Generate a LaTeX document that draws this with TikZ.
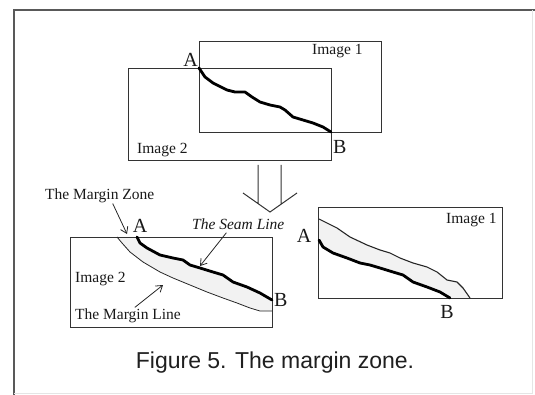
\documentclass[tikz,border=0pt]{standalone}
\usepackage{fontspec}
\setmainfont{Liberation Serif}
\newfontfamily\capfont{Liberation Sans}
\usetikzlibrary{arrows.meta}

\begin{document}
\begin{tikzpicture}[x=1pt, y=-1pt,
    every node/.style={font=\fontsize{15.5}{16}\selectfont, inner sep=0pt, text=black!90}]

\tikzset{
    imgframe/.style={draw=black!80, line width=0.9pt},
    seamline/.style={draw=black, line width=2.8pt, line join=round, line cap=round},
    marginline/.style={draw=black!85, line width=0.8pt, line join=round},
    zone/.style={fill=gray!10},
    pointlabel/.style={font=\fontsize{20}{20}\selectfont},
    pointer/.style={-{Straight Barb[length=6pt, width=8pt]}, line width=0.8pt, black!85},
}

\useasboundingbox (0,0) rectangle (535,395);

% --- PAGE FRAME ---
\draw[black!65, line width=1.3pt] (14,395) -- (14,10) -- (535,10);
\draw[black!10, line width=0.8pt] (532,10) -- (532,393) -- (14,393);

% --- TOP: THE TWO OVERLAPPING IMAGES ---
\begin{scope}
    \draw[imgframe] (199,41) rectangle (381,132);
    \draw[imgframe] (128,68) rectangle (331,160);

    \coordinate (A1) at (199,68);
    \coordinate (B1) at (331,132);

    % seam line between A and B
    \draw[seamline] (A1) -- (205,77) -- (213,83) -- (227,90) -- (235,92) -- (245,92)
        -- (252,97) -- (260,102) -- (270,105) -- (280,107) -- (285,110) -- (293,117)
        -- (303,120) -- (313,123) -- (323,127) -- (B1);

    \node[pointlabel, anchor=base east] (labA1) at (198,67) {A};
    \node[pointlabel, anchor=base west] (labB1) at (333,154) {B};
    \node[anchor=base west] (img1top) at (312,55) {Image 1};
    \node[anchor=base west] (img2top) at (137,154) {Image 2};
\end{scope}

% --- TRANSITION ARROW ---
\draw[black!80, line width=1pt]
    (258,165) -- (258,204) (281,165) -- (281,204)
    (243,193) -- (270,212) -- (297,193);

% --- BOTTOM LEFT: MARGIN ZONE IN IMAGE 2 ---
\begin{scope}
    \fill[zone] (117,237) -- (122,243) -- (130,252) -- (143,262) -- (160,272) -- (173,278)
        -- (190,285) -- (207,292) -- (223,298) -- (237,303) -- (250,308) -- (260,311)
        -- (272,311) -- (272,300) -- (260,293) -- (247,287) -- (233,282) -- (223,275)
        -- (213,272) -- (200,268) -- (190,265) -- (183,260) -- (173,258) -- (160,255)
        -- (147,248) -- (140,243) -- (137,237) -- cycle;
    \draw[imgframe] (70,237) rectangle (272,327);

    % margin line
    \draw[marginline] (117,237) -- (122,243) -- (130,252) -- (143,262) -- (160,272)
        -- (173,278) -- (190,285) -- (207,292) -- (223,298) -- (237,303) -- (250,308)
        -- (260,311) -- (272,311);
    % seam line
    \draw[seamline] (137,237) -- (140,243) -- (147,248) -- (160,255) -- (173,258)
        -- (183,260) -- (190,265) -- (200,268) -- (213,272) -- (223,275) -- (233,282)
        -- (247,287) -- (260,293) -- (272,300);

    \coordinate (zoneTip) at (127,234);
    \coordinate (seamTip) at (200,266);
    \coordinate (mlineTip) at (163,285);

    \node[pointlabel, anchor=base] (labA2) at (140,233) {A};
    \node[pointlabel, anchor=base west] (labB2) at (274,306) {B};
    \node[anchor=base west] (img2bot) at (75,282) {Image 2};
    \node[anchor=base west] (labZone) at (45,200) {The Margin Zone};
    \node[anchor=base west, font=\fontsize{15.5}{16}\selectfont\itshape] (labSeam) at (192,230) {The Seam Line};
    \node[anchor=base west] (labMLine) at (75,319) {The Margin Line};

    \draw[pointer] ([xshift=13pt]labZone.south) -- (zoneTip);
    \draw[pointer, shorten <=3pt] ([xshift=-10pt]labSeam.south) -- (seamTip);
    \draw[pointer, shorten <=1pt] ([xshift=6pt]labMLine.north) -- (mlineTip);
\end{scope}

% --- BOTTOM RIGHT: MARGIN ZONE IN IMAGE 1 ---
\begin{scope}
    \fill[zone] (319,219) -- (327,223) -- (337,228) -- (350,237) -- (367,245) -- (380,250)
        -- (390,253) -- (400,258) -- (413,263) -- (427,267) -- (437,272) -- (447,280)
        -- (457,282) -- (463,288) -- (470,298) -- (450,298) -- (440,292) -- (427,287)
        -- (413,282) -- (403,275) -- (393,272) -- (380,268) -- (370,265) -- (360,263)
        -- (347,258) -- (333,253) -- (323,247) -- (319,240) -- cycle;
    \draw[imgframe] (318,207) rectangle (502,298);

    % margin line
    \draw[marginline, line width=1.1pt] (319,219) -- (327,223) -- (337,228) -- (350,237)
        -- (367,245) -- (380,250) -- (390,253) -- (400,258) -- (413,263) -- (427,267)
        -- (437,272) -- (447,280) -- (457,282) -- (463,288) -- (470,298);
    % seam line
    \draw[seamline] (319,240) -- (323,247) -- (333,253) -- (347,258) -- (360,263)
        -- (370,265) -- (380,268) -- (393,272) -- (403,275) -- (413,282) -- (427,287)
        -- (440,292) -- (450,298);

    \node[pointlabel, anchor=base] (labA3) at (304,243) {A};
    \node[pointlabel, anchor=base] (labB3) at (447,318) {B};
    \node[anchor=base west] (img1bot) at (446,224) {Image 1};
\end{scope}

% --- CAPTION ---
\node[font=\capfont\fontsize{23}{24}\selectfont, text=black!88] (caption) at (275,363)
    {Figure 5. The margin zone.};

\end{tikzpicture}
\end{document}
